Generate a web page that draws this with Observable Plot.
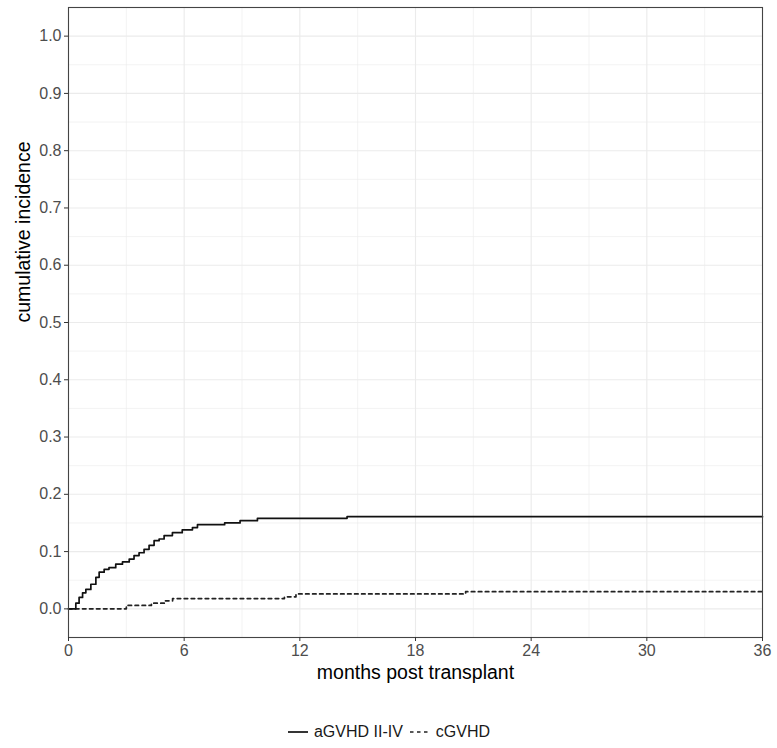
<!DOCTYPE html>
<html>
<head>
<meta charset="utf-8">
<script src="https://cdn.jsdelivr.net/npm/d3@7"></script>
<script src="https://cdn.jsdelivr.net/npm/@observablehq/plot@0.6"></script>
<style>
  html, body { margin: 0; padding: 0; background: #fff; }
  body { width: 777px; font-family: "Liberation Sans", Arial, sans-serif; }
  #legend { display: flex; justify-content: center; align-items: center; gap: 6px; font-size: 16px; color: #1a1a1a; margin-top: 21px; height: 22px; }
  #legend .item { display: flex; align-items: center; gap: 5px; }
</style>
</head>
<body>
<div id="chart"></div>
<div id="legend"></div>
<script>
// ---- data ----
const seriesNames = ["aGVHD II-IV", "cGVHD"];
const aMonths = [0, 0.38, 0.55, 0.73, 0.9, 1.16, 1.42, 1.59, 1.85, 2.1, 2.45, 2.8, 3.15, 3.4, 3.66, 3.92, 4.18, 4.44, 4.7, 4.96, 5.39, 5.9, 6.43, 6.69, 8.1, 8.9, 9.8, 14.45, 36];
const aIncidence = [0, 0.010, 0.020, 0.028, 0.034, 0.043, 0.055, 0.064, 0.069, 0.072, 0.078, 0.082, 0.087, 0.093, 0.098, 0.104, 0.111, 0.119, 0.122, 0.128, 0.133, 0.138, 0.142, 0.147, 0.150, 0.154, 0.158, 0.161, 0.161];
const cMonths = [0, 3.0, 4.3, 5.0, 5.4, 11.2, 11.8, 20.6, 36];
const cIncidence = [0, 0.006, 0.010, 0.014, 0.018, 0.021, 0.026, 0.030, 0.030];
const xTicks = [0, 6, 12, 18, 24, 30, 36];
const xMinorTicks = [3, 9, 15, 21, 27, 33];
const yTicks = [0, 0.1, 0.2, 0.3, 0.4, 0.5, 0.6, 0.7, 0.8, 0.9, 1.0];
const yMinorTicks = [0.05, 0.15, 0.25, 0.35, 0.45, 0.55, 0.65, 0.75, 0.85, 0.95];
const xTitle = "months post transplant";
const yTitle = "cumulative incidence";

const aData = aMonths.map((m, i) => ({month: m, value: aIncidence[i], series: seriesNames[0]}));
const cData = cMonths.map((m, i) => ({month: m, value: cIncidence[i], series: seriesNames[1]}));

const styles = {
  [seriesNames[0]]: {stroke: "#111", dash: null},
  [seriesNames[1]]: {stroke: "#222", dash: "3.5,3.5"}
};

const chart = Plot.plot({
  width: 777,
  height: 700,
  marginLeft: 68,
  marginRight: 15,
  marginTop: 7,
  marginBottom: 63,
  style: {fontFamily: "'Liberation Sans', Arial, sans-serif", fontSize: "16px", background: "#fff"},
  x: {domain: [0, 36]},
  y: {domain: [-0.05, 1.05]},
  marks: [
    Plot.gridX(xMinorTicks, {stroke: "#ebebeb", strokeOpacity: 1, strokeWidth: 0.6}),
    Plot.gridY(yMinorTicks, {stroke: "#ebebeb", strokeOpacity: 1, strokeWidth: 0.6}),
    Plot.gridX(xTicks, {stroke: "#ebebeb", strokeOpacity: 1, strokeWidth: 1.1}),
    Plot.gridY(yTicks, {stroke: "#ebebeb", strokeOpacity: 1, strokeWidth: 1.1}),
    Plot.line(cData, {x: "month", y: "value", curve: "step-after", stroke: styles[seriesNames[1]].stroke, strokeWidth: 1.7, strokeDasharray: styles[seriesNames[1]].dash}),
    Plot.line(aData, {x: "month", y: "value", curve: "step-after", stroke: styles[seriesNames[0]].stroke, strokeWidth: 1.7}),
    Plot.frame({stroke: "#444", strokeWidth: 1.1}),
    Plot.axisX(xTicks, {label: null, tickSize: 4, tickPadding: 3, stroke: "#333", fill: "#4d4d4d", fontSize: 16}),
    Plot.axisY(yTicks, {label: null, tickSize: 4, tickPadding: 3, tickFormat: d3.format(".1f"), stroke: "#333", fill: "#4d4d4d", fontSize: 16}),
    Plot.text([xTitle], {frameAnchor: "bottom", dy: 41, fontSize: 19.5, fill: "#000"}),
    Plot.text([yTitle], {frameAnchor: "left", dx: -45, rotate: -90, fontSize: 19.5, fill: "#000"})
  ]
});
document.getElementById("chart").appendChild(chart);

// legend
const legend = document.getElementById("legend");
seriesNames.forEach(name => {
  const s = styles[name];
  const item = document.createElement("div");
  item.className = "item";
  item.innerHTML = `<svg width="22" height="10"><line x1="1" y1="5" x2="21" y2="5" stroke="${s.stroke}" stroke-width="1.7" ${s.dash ? `stroke-dasharray="${s.dash}"` : ""}/></svg><span>${name}</span>`;
  legend.appendChild(item);
});
</script>
</body>
</html>
